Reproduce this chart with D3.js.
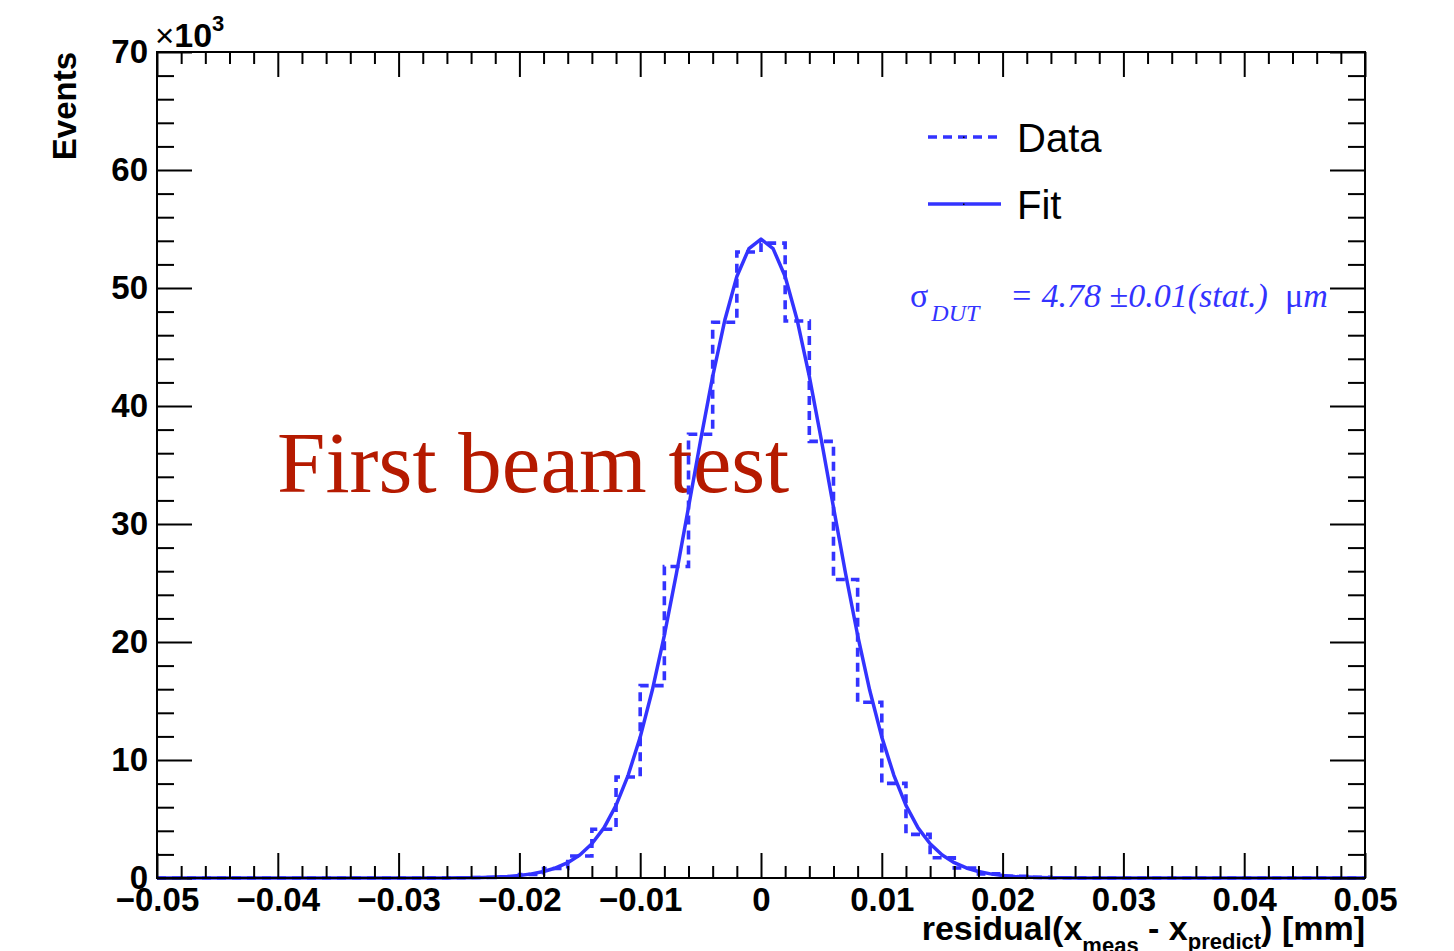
<!DOCTYPE html>
<html>
<head>
<meta charset="utf-8">
<script src="https://cdn.jsdelivr.net/npm/d3@7"></script>
<style>
  html, body { margin: 0; padding: 0; background: #ffffff; }
  svg { display: block; }
  text { white-space: pre; }
</style>
</head>
<body>
<svg id="chart" width="1454" height="951"></svg>
<script>
// ---------------- data (counts in units of 10^3 events) ----------------
const xRange = [-0.05, 0.05];
const yRange = [0, 70];
const binWidth = 0.002;
// 50 histogram bins from -0.05 to 0.05
const dataCounts = [
  0, 0, 0, 0, 0, 0, 0, 0, 0, 0,
  0.005, 0.01, 0.02, 0.04, 0.10, 0.30, 0.80, 1.86, 4.13, 8.56,
  16.3, 26.4, 37.6, 47.1, 53.05, 53.8, 47.2, 37.0, 25.3, 14.9,
  8.02, 3.7, 1.72, 0.85, 0.35, 0.14, 0.05, 0.02, 0.01, 0,
  0, 0, 0, 0, 0, 0, 0, 0, 0, 0
];
// fit curve, sampled every 0.001 from -0.05 to 0.05 (101 points)
const fitStep = 0.001;
const fitValues = [
  0, 0, 0, 0, 0, 0, 0, 0, 0, 0,
  0, 0, 0, 0, 0, 0, 0, 0, 0, 0,
  0, 0, 0, 0.005, 0.01, 0.02, 0.03, 0.05, 0.08, 0.13,
  0.22, 0.35, 0.55, 0.85, 1.3, 1.95, 2.9, 4.25, 6.15, 8.7,
  11.94, 15.91, 20.57, 25.81, 31.42, 37.10, 42.51, 47.26, 50.97, 53.34,
  54.15, 53.34, 50.97, 47.26, 42.51, 37.10, 31.42, 25.81, 20.57, 15.91,
  11.94, 8.7, 6.15, 4.25, 2.9, 1.95, 1.3, 0.85, 0.55, 0.35,
  0.22, 0.13, 0.08, 0.05, 0.03, 0.02, 0.01, 0.005, 0, 0,
  0, 0, 0, 0, 0, 0, 0, 0, 0, 0,
  0, 0, 0, 0, 0, 0, 0, 0, 0, 0,
  0
];
const xMajorTicks = [-0.05, -0.04, -0.03, -0.02, -0.01, 0, 0.01, 0.02, 0.03, 0.04, 0.05];
const xTickLabels = ["\u22120.05", "\u22120.04", "\u22120.03", "\u22120.02", "\u22120.01", "0", "0.01", "0.02", "0.03", "0.04", "0.05"];
const yMajorTicks = [0, 10, 20, 30, 40, 50, 60, 70];
const yTickLabels = ["0", "10", "20", "30", "40", "50", "60", "70"];
const legendLabels = ["Data", "Fit"];

// ---------------- layout ----------------
const svg = d3.select("#chart");
const L = 157, R = 1365, T = 52, B = 878;
const blue = "#3333ff";

const x = d3.scaleLinear().domain(xRange).range([L, R]);
const y = d3.scaleLinear().domain(yRange).range([B, T]);

svg.append("rect").attr("width", 1454).attr("height", 951).attr("fill", "#fff");

// "First beam test" annotation (beneath curves)
svg.append("text")
  .attr("x", 277).attr("y", 492)
  .attr("font-family", "'Liberation Serif', 'Times New Roman', serif")
  .attr("font-size", 87)
  .attr("fill", "#b51a00")
  .text("First beam test");

// ---------------- histogram (dashed step line) ----------------
const edgePts = dataCounts.map((v, i) => [xRange[0] + i * binWidth, v]);
edgePts.push([xRange[0] + dataCounts.length * binWidth, dataCounts[dataCounts.length - 1]]);
const stepLine = d3.line()
  .x(d => x(d[0])).y(d => y(d[1]))
  .curve(d3.curveStepAfter);
svg.append("path")
  .attr("d", stepLine(edgePts))
  .attr("fill", "none")
  .attr("stroke", blue)
  .attr("stroke-width", 3.6)
  .attr("stroke-dasharray", "9,6");

// ---------------- fit curve ----------------
const fitPts = fitValues.map((v, i) => [xRange[0] + i * fitStep, v]);
const fitLine = d3.line().x(d => x(d[0])).y(d => y(d[1]));
svg.append("path")
  .attr("d", fitLine(fitPts))
  .attr("fill", "none")
  .attr("stroke", blue)
  .attr("stroke-width", 3.5)
  .attr("stroke-linejoin", "round");

// ---------------- axes ----------------
const xMinor = d3.range(-25, 26).map(i => i * binWidth).filter(v => !xMajorTicks.some(m => Math.abs(m - v) < 1e-9));
const yMinor = d3.range(0, 36).map(i => i * 2).filter(v => v % 10 !== 0);
const labelFont = "'Liberation Sans', Arial, Helvetica, sans-serif";

function styleAxis(g) {
  g.select(".domain").remove();
  g.selectAll(".tick line").attr("stroke", "#000").attr("stroke-width", 2);
  g.selectAll(".tick text")
    .attr("font-family", labelFont).attr("font-weight", "bold")
    .attr("font-size", 33).attr("fill", "#000");
}

// bottom major with labels
svg.append("g").attr("transform", `translate(0,${B})`)
  .call(d3.axisBottom(x).tickValues(xMajorTicks).tickSize(-25).tickPadding(10)
    .tickFormat((d, i) => xTickLabels[i]))
  .call(styleAxis);
svg.append("g").attr("transform", `translate(0,${B})`)
  .call(d3.axisBottom(x).tickValues(xMinor).tickSize(-12).tickFormat(""))
  .call(styleAxis);
// top
svg.append("g").attr("transform", `translate(0,${T})`)
  .call(d3.axisTop(x).tickValues(xMajorTicks).tickSize(-25).tickFormat(""))
  .call(styleAxis);
svg.append("g").attr("transform", `translate(0,${T})`)
  .call(d3.axisTop(x).tickValues(xMinor).tickSize(-12).tickFormat(""))
  .call(styleAxis);
// left
svg.append("g").attr("transform", `translate(${L},0)`)
  .call(d3.axisLeft(y).tickValues(yMajorTicks).tickSize(-35).tickPadding(9)
    .tickFormat((d, i) => yTickLabels[i]))
  .call(styleAxis);
svg.append("g").attr("transform", `translate(${L},0)`)
  .call(d3.axisLeft(y).tickValues(yMinor).tickSize(-17).tickFormat(""))
  .call(styleAxis);
// right
svg.append("g").attr("transform", `translate(${R},0)`)
  .call(d3.axisRight(y).tickValues(yMajorTicks).tickSize(-35).tickFormat(""))
  .call(styleAxis);
svg.append("g").attr("transform", `translate(${R},0)`)
  .call(d3.axisRight(y).tickValues(yMinor).tickSize(-17).tickFormat(""))
  .call(styleAxis);

// frame
svg.append("rect")
  .attr("x", L).attr("y", T).attr("width", R - L).attr("height", B - T)
  .attr("fill", "none").attr("stroke", "#000").attr("stroke-width", 2);

// x10^3 multiplier
const mult = svg.append("text").attr("x", 155).attr("y", 47)
  .attr("font-family", labelFont).attr("fill", "#000");
mult.append("tspan").attr("font-size", 33).text("\u00d7");
mult.append("tspan").attr("font-size", 34).attr("font-weight", "bold").text("10");
mult.append("tspan").attr("font-size", 22).attr("font-weight", "bold").attr("dy", -16).text("3");

// axis titles
const xt = svg.append("text")
  .attr("x", R).attr("y", 940)
  .attr("text-anchor", "end")
  .attr("font-family", labelFont).attr("font-weight", "bold")
  .attr("font-size", 34).attr("fill", "#000");
xt.append("tspan").text("residual(x");
xt.append("tspan").attr("font-size", 22).attr("dy", 13).text("meas");
xt.append("tspan").attr("dy", -13).text(" - x");
xt.append("tspan").attr("font-size", 22).attr("dy", 9).text("predict");
xt.append("tspan").attr("dy", -9).text(") [mm]");

svg.append("text")
  .attr("transform", `translate(76,${T}) rotate(-90)`)
  .attr("text-anchor", "end")
  .attr("font-family", labelFont).attr("font-weight", "bold")
  .attr("font-size", 33).attr("fill", "#000")
  .text("Events");

// ---------------- legend ----------------
const legY = [137, 204];
const legDash = ["9,6", null];
legendLabels.forEach((lab, i) => {
  const ln = svg.append("line")
    .attr("x1", 928).attr("x2", 1001).attr("y1", legY[i]).attr("y2", legY[i])
    .attr("stroke", blue).attr("stroke-width", 3.5);
  if (legDash[i]) ln.attr("stroke-dasharray", legDash[i]);
  svg.append("rect").attr("x", 963).attr("y", legY[i] - 0.5).attr("width", 1.5).attr("height", 1.5).attr("fill", "#000");
  svg.append("text")
    .attr("x", 1017).attr("y", legY[i] + 15)
    .attr("font-family", labelFont).attr("font-size", 40).attr("fill", "#000")
    .text(lab);
});

// ---------------- sigma annotation ----------------
const serif = "'Liberation Serif', 'Times New Roman', serif";
const st = svg.append("text")
  .attr("x", 910).attr("y", 307)
  .attr("font-family", serif).attr("font-size", 34).attr("fill", blue);
st.append("tspan").text("\u03c3");
st.append("tspan").attr("font-style", "italic").attr("font-size", 24).attr("dy", 14).attr("dx", 3).text("DUT");
st.append("tspan").attr("font-style", "italic").attr("x", 1010).attr("dy", -14).text("= 4.78 ");
st.append("tspan").text("\u00b1");
st.append("tspan").attr("font-style", "italic").text("0.01(stat.)  ");
st.append("tspan").text("\u03bc");
st.append("tspan").attr("font-style", "italic").text("m");
</script>
</body>
</html>
